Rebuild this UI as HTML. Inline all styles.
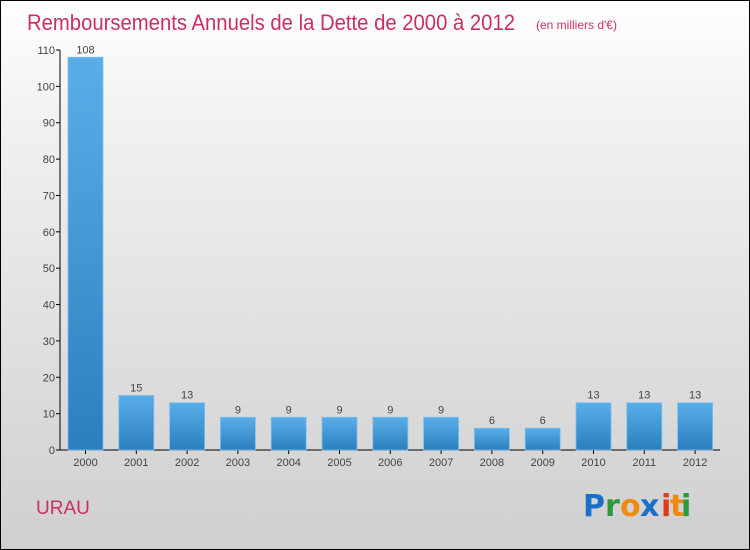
<!DOCTYPE html>
<html><head><meta charset="utf-8"><style>
html,body{margin:0;padding:0}
body{width:750px;height:550px;overflow:hidden;font-family:"Liberation Sans",sans-serif}
#c{position:absolute;left:0;top:0;width:748px;height:548px;border:1px solid #000;background:linear-gradient(#ffffff,#f2f2f2 20%,#cfcfcf)}
</style></head><body>
<div id="c">
<svg width="748" height="548" viewBox="1 1 748 548" style="position:absolute;left:0;top:0">
<defs><linearGradient id="bg" x1="0" y1="0" x2="0" y2="1"><stop offset="0" stop-color="#5aaee8"/><stop offset="1" stop-color="#2b7fbd"/></linearGradient></defs>
<text x="27" y="30" font-size="22" fill="#cc2f62" textLength="488" lengthAdjust="spacingAndGlyphs">Remboursements Annuels de la Dette de 2000 à 2012</text>
<text x="536" y="29" font-size="12" fill="#cc2f62">(en milliers d'€)</text>
<g id="axes"></g>
<g id="bars"></g>
<text x="36" y="514" font-size="19" fill="#cc2f62">URAU</text>
<g font-size="30" font-weight="bold" font-family="'DejaVu Sans',sans-serif">
<text x="583" y="516" fill="#1a6fc9">P</text><text x="605" y="516" fill="#2a9a3a">r</text><text x="620" y="516" fill="#f08a10">o</text><text x="640" y="516" fill="#1a6fc9">x</text><text x="661" y="516" fill="#e03a1a">i</text><text x="670" y="516" fill="#f08a10">t</text><text x="681" y="516" fill="#2a9a3a">i</text>
</g>
</svg></div>
<script>
const years=["2000","2001","2002","2003","2004","2005","2006","2007","2008","2009","2010","2011","2012"];
const values=[108,15,13,9,9,9,9,9,6,6,13,13,13];
const ticks=[0,10,20,30,40,50,60,70,80,90,100,110];
const NS="http://www.w3.org/2000/svg";
const y0=450,yTop=50,maxV=110,x0=85.5,step=50.8,bw=35;
const y=v=>y0-(v/maxV)*(y0-yTop);
const x=i=>x0+i*step;
function mk(t,a,p){const e=document.createElementNS(NS,t);for(const k in a)e.setAttribute(k,a[k]);p.appendChild(e);return e;}
const ax=document.getElementById('axes'),bg=document.getElementById('bars');
const yl=mk('line',{x1:60,y1:yTop,x2:60,y2:y0,stroke:'#000'},ax);


const xl=mk('line',{x1:60,y1:y0,x2:720,y2:y0,stroke:'#000'},ax);


ticks.forEach(t=>{
 const tl=mk('line',{x1:56,y1:y(t),x2:60,y2:y(t),stroke:'#000'},ax);
 
 
 const tx=mk('text',{x:55,y:y(t)+4,'font-size':11,fill:'#444','text-anchor':'end'},ax);
 tx.textContent=t;
 
 
});
years.forEach((yr,i)=>{
 const v=values[i];
 const r=mk('rect',{x:x(i)-bw/2,y:y(v),width:bw,height:y0-y(v),fill:'url(#bg)',stroke:'#7cc0f0','stroke-width':0.8},bg);
 
 
 const lb=mk('text',{x:x(i),y:y(v)-4,'font-size':11,fill:'#444','text-anchor':'middle'},bg);
 lb.textContent=v;
 
 
 const tk=mk('line',{x1:x(i),y1:y0,x2:x(i),y2:y0+4,stroke:'#000'},ax);
 
 
 const xt=mk('text',{x:x(i),y:y0+16,'font-size':11,fill:'#444','text-anchor':'middle'},ax);
 xt.textContent=yr;
 
 
});
</script>
</body></html>
